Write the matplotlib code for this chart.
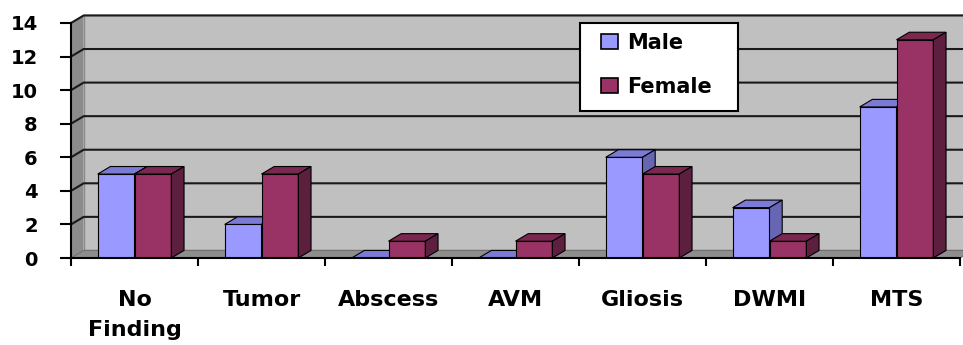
import numpy as np
import matplotlib.pyplot as plt
from matplotlib.patches import Patch, Rectangle

categories = ['No\nFinding', 'Tumor', 'Abscess', 'AVM', 'Gliosis', 'DWMI', 'MTS']
male = [5, 2, 0, 0, 6, 3, 9]
female = [5, 5, 1, 1, 5, 1, 13]

plt.rcParams['font.family'] = ['DejaVu Sans']
plt.rcParams['font.weight'] = 'bold'

fig = plt.figure(figsize=(9.63, 3.45), dpi=100)
ax = fig.add_axes([71 / 963, 1 - 258 / 345, 889 / 963, 235 / 345])

x = np.arange(len(categories))
w = 0.29
dx, dy = 0.1, 0.45   # fake depth (data units)
x0, x1 = -0.5, len(categories) - 0.5
ymax = 14

# back wall, side wall, floor
ax.fill([x0 + dx, x1 + dx, x1 + dx, x0 + dx], [dy, dy, ymax + dy, ymax + dy],
        color='#c0c0c0', ec='#8a8a8a', lw=1, clip_on=False, zorder=0)
ax.fill([x0, x0 + dx, x0 + dx, x0], [0, dy, ymax + dy, ymax],
        color='#8c8c8c', ec='none', clip_on=False, zorder=0)
ax.fill([x0, x1, x1 + dx, x0 + dx], [0, 0, dy, dy],
        color='#8e8e8e', ec='#707070', lw=0.8, clip_on=False, zorder=0)
for v in range(2, ymax + 1, 2):
    ax.plot([x0, x0 + dx, x1 + dx], [v, v + dy, v + dy], color='#1a1a1a',
            lw=1.5, clip_on=False, zorder=0.5)


def bar3d(xs, hs, front, top, side):
    bars = ax.bar(xs, hs, w, color=front, ec='black', lw=0.8, zorder=2)
    for b in bars:
        bx, bw, bh = b.get_x(), b.get_width(), b.get_height()
        ax.fill([bx, bx + bw, bx + bw + dx, bx + dx], [bh, bh, bh + dy, bh + dy],
                color=top, ec='black', lw=0.8, clip_on=False, zorder=2)
        ax.fill([bx + bw, bx + bw + dx, bx + bw + dx, bx + bw], [0, dy, bh + dy, bh],
                color=side, ec='black', lw=0.8, clip_on=False, zorder=2)
    return bars


for i in range(len(categories)):
    bar3d([x[i] - w / 2], [male[i]], '#9999ff', '#7b7bd6', '#6666b3')
    bar3d([x[i] + w / 2], [female[i]], '#993366', '#7a2850', '#5c1f3e')

ax.set_xlim(x0, x1)
ax.set_ylim(0, ymax)
ax.set_yticks(range(0, ymax + 1, 2))
ax.tick_params(axis='y', length=8, width=1.5, pad=16, labelsize=14)
ax.set_xticks(np.arange(x0, x1 + 0.01, 1))
ax.set_xticklabels([])
ax.tick_params(axis='x', which='major', length=6, width=1.5, direction='out')
ax.set_xticks(x, minor=True)
ax.set_xticklabels(categories, minor=True, fontsize=16, linespacing=1.65)
ax.tick_params(axis='x', which='minor', length=0, pad=23)
for s in ['top', 'right']:
    ax.spines[s].set_visible(False)
ax.spines['left'].set_linewidth(1.5)
ax.spines['bottom'].set_linewidth(1.5)
ax.set_facecolor('none')

# legend box
ax.add_patch(Rectangle((509 / 889, 147 / 235), 158 / 889, 88 / 235, transform=ax.transAxes,
                       fc='white', ec='black', lw=1.5, clip_on=False, zorder=5))
handles = [Patch(fc='#9999ff', ec='black', lw=1.2, label='Male'),
           Patch(fc='#993366', ec='black', lw=1.2, label='Female')]
leg = ax.legend(handles=handles, loc='upper left', bbox_to_anchor=(530 / 889, 225 / 235),
                frameon=False, fontsize=15, labelspacing=1.15, handlelength=0.8,
                handleheight=0.7, borderpad=0, handletextpad=0.45, borderaxespad=0)
leg.set_zorder(6)

fig.savefig('out.png', dpi=100)
